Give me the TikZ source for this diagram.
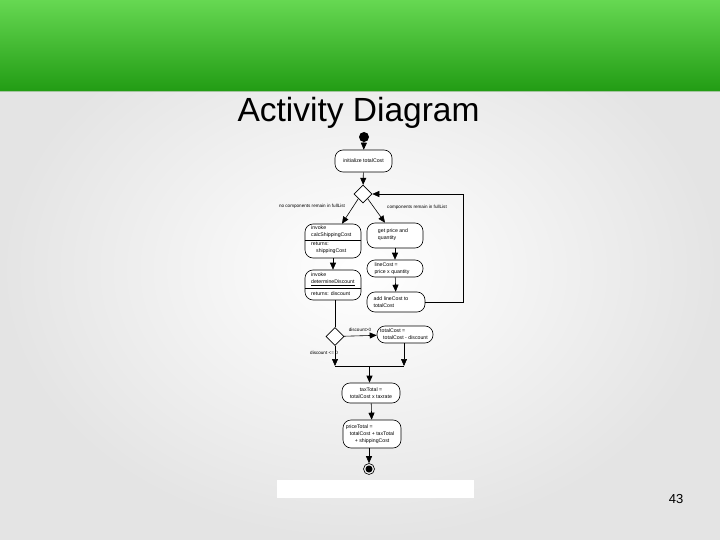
\documentclass[tikz,border=0pt]{standalone}
\usepackage{fontspec}
\setmainfont{Liberation Sans}
\usetikzlibrary{arrows.meta,shapes.geometric}
\definecolor{gtop}{HTML}{66D852}
\definecolor{gmid}{HTML}{4CC23A}
\definecolor{gbot}{HTML}{229C14}
\definecolor{bgedge}{HTML}{E4E4E4}
\tikzset{
  actbox/.style={draw, rounded corners=8pt, line width=0.6pt, inner sep=0pt, fill=white},
  txt/.style={inner sep=0pt, align=left, font=\fontsize{5.2}{7}\selectfont},
  lbl/.style={inner sep=0pt, font=\fontsize{4.6}{5}\selectfont},
  decision/.style={draw, diamond, line width=0.6pt, minimum width=18pt, minimum height=18pt, inner sep=0pt, fill=white},
  flow/.style={line width=0.6pt, -{Triangle[length=7pt,width=6pt]}},
  plain/.style={line width=0.6pt},
}
\begin{document}
\begin{tikzpicture}[x=1pt,y=-1pt]
\useasboundingbox (0,0) rectangle (720,540);
% background
\shade[inner color=white, outer color=bgedge] (0,0) rectangle (720,540);
\shade[top color=gtop, middle color=gmid, bottom color=gbot] (0,0) rectangle (720,91);
\draw[color=gbot!70!black!40, line width=0.8pt] (0,91) -- (720,91);
\node[anchor=base, inner sep=0pt, font=\fontsize{33.5}{36}\selectfont] (title) at (358.5,122) {Activity Diagram};
\node[anchor=base, inner sep=0pt, font=\fontsize{13}{15}\selectfont] (pagenum) at (676,503) {43};
\fill[white] (277,480) rectangle (474,498);

% initial
\node[circle, fill=black, minimum size=10pt, inner sep=0pt] (start) at (364,137) {};
\node[actbox, minimum width=57pt, minimum height=22pt, txt] (init) at (363.5,161) {initialize  totalCost};
\node[decision] (d1) at (363,194) {};

% left column
\node[actbox, minimum width=56pt, minimum height=34pt] (A) at (333,241) {};
\draw[plain] (A.west |- 0,240) -- (A.east |- 0,240);
\node[txt, anchor=north west] (Atop) at (311,226) {invoke\\calcShippingCost};
\node[txt, anchor=north west] (Abot) at (311,241.5) {returns:\\\hspace{5pt}shippingCost};

\node[actbox, minimum width=56pt, minimum height=30pt] (B) at (333,285) {};
\draw[plain] (B.west |- 0,288) -- (B.east |- 0,288);
\node[txt, anchor=north west] (Btop) at (311,272.5) {invoke\\\underline{determineDiscount}};
\node[txt, anchor=north west] (Bbot) at (311,291.5) {returns:  discount};

% right column
\node[actbox, minimum width=56pt, minimum height=25pt] (C1) at (395,235.5) {};
\node[txt] (C1t) at (393,234.5) {get  price and\\quantity};
\node[actbox, minimum width=56pt, minimum height=17pt] (C2) at (395,268.5) {};
\node[txt] (C2t) at (392,268.5) {lineCost  =\\price x quantity};
\node[actbox, minimum width=58pt, minimum height=20pt] (C3) at (396,302) {};
\node[txt] (C3t) at (391,302) {add  lineCost  to\\totalCost};

% discount decision
\node[decision] (d2) at (335,336.5) {};
\node[actbox, minimum width=56pt, minimum height=17pt] (D) at (405,334.5) {};
\node[txt] (Dt) at (404,334.5) {totalCost =\\\hspace{3pt}totalCost  -  discount};

\coordinate (mL) at (335,366);
\coordinate (mR) at (404,366);
\coordinate (mC) at (369.5,366);

\node[actbox, minimum width=58pt, minimum height=20pt] (T) at (371,393) {};
\node[txt, align=center] (Tt) at (371,393) {taxTotal =\\totalCost  x taxrate};
\node[actbox, minimum width=58pt, minimum height=28pt] (P) at (372,434) {};
\node[txt] (Pt) at (370,434) {priceTotal =\\\hspace{4pt}totalCost  + taxTotal\\\hspace{9pt}+ shippingCost};

% final
\node[circle, draw, line width=0.6pt, minimum size=11pt, inner sep=0pt] (final) at (369,469) {};
\node[circle, fill=black, minimum size=7pt, inner sep=0pt] (finalin) at (369,469) {};

% connectors
\draw[flow] (start) -- (init);
\draw[flow] (init) -- (d1);
\draw[flow] (d1.south west) -- ([xshift=9pt]A.north);
\draw[flow] (d1.south east) -- ([xshift=-10pt]C1.north);
\node[lbl] (lno) at (312,206) {no components remain in fullList};
\node[lbl] (lyes) at (417,207) {components remain in fullList};
\draw[flow] (A) -- (B);
\draw[flow] (C1) -- (C2);
\draw[flow] (C2) -- (C3);
\draw[flow] (C3.east) -- (463,302) -- (463,194) -- (d1.east);
\draw[plain] (B.south -| d2.north) -- (d2.north);
\draw[flow] (d2) -- (D);
\node[lbl] (lpos) at (360,330) {discount>0};
\draw[flow] (d2.south) -- (mL);
\node[lbl] (lneg) at (324,353) {discount <= 0};
\draw[flow] (D.south -| mR) -- (mR);
\draw[plain] (mL) -- (mR);
\draw[flow] (mC) -- (mC |- T.north);
\draw[flow] (T) -- (P);
\draw[flow] (P.south -| final.north) -- (final.north);
\end{tikzpicture}
\end{document}
